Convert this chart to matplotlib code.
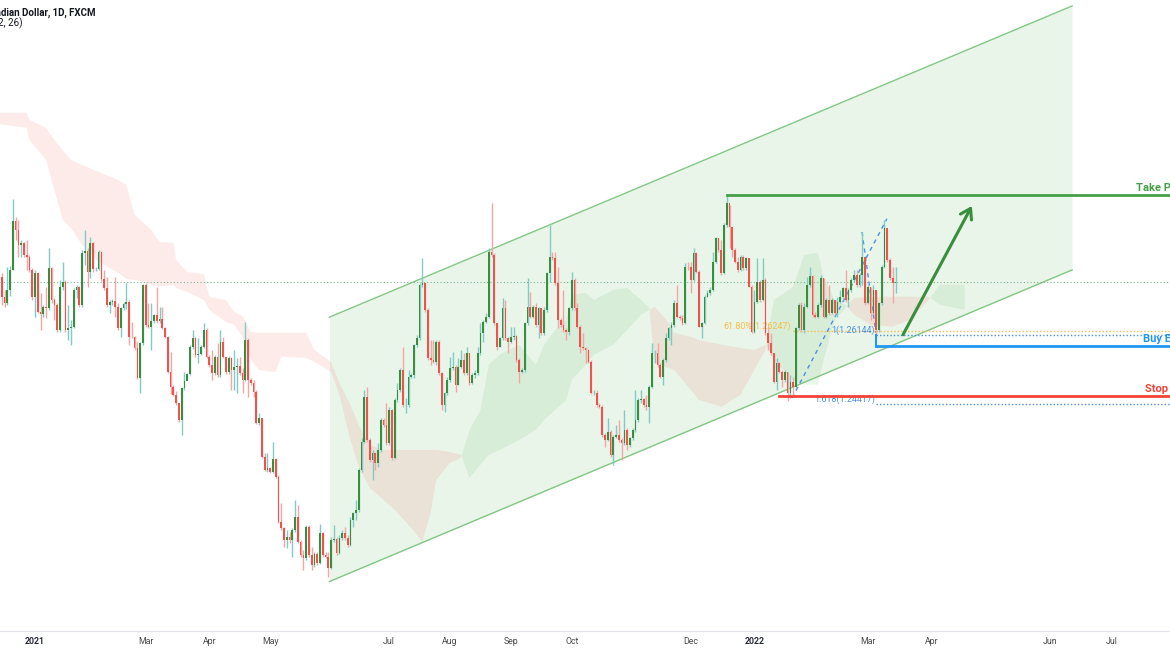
import matplotlib
matplotlib.use("Agg")
import matplotlib.pyplot as plt
import numpy as np
import pandas as pd

plt.rcParams['font.family'] = ['Roboto', 'DejaVu Sans']

# USD/CAD daily bars (FXCM), 15 Dec 2020 .. 15 Mar 2022
opens = [
    1.2759, 1.2709, 1.2694, 1.2727, 1.2777, 1.2900, 1.2877, 1.2839, 1.2844, 1.2814,
    1.2810, 1.2777, 1.2710, 1.2769, 1.2673, 1.2667, 1.2685, 1.2681, 1.2781, 1.2702,
    1.2689, 1.2627, 1.2735, 1.2748, 1.2627, 1.2631, 1.2635, 1.2727, 1.2734, 1.2689,
    1.2819, 1.2825, 1.2773, 1.2844, 1.2779, 1.2780, 1.2823, 1.2754, 1.2731, 1.2689,
    1.2697, 1.2700, 1.2685, 1.2631, 1.2681, 1.2692, 1.2698, 1.2610, 1.2609, 1.2581,
    1.2506, 1.2594, 1.2739, 1.2639, 1.2635, 1.2650, 1.2664, 1.2649, 1.2655, 1.2631,
    1.2610, 1.2523, 1.2485, 1.2464, 1.2444, 1.2402, 1.2481, 1.2500, 1.2517, 1.2585,
    1.2606, 1.2564, 1.2567, 1.2585, 1.2627, 1.2560, 1.2539, 1.2519, 1.2560, 1.2514,
    1.2598, 1.2560, 1.2523, 1.2556, 1.2527, 1.2535, 1.2537, 1.2519, 1.2502, 1.2602,
    1.2502, 1.2494, 1.2473, 1.2394, 1.2406, 1.2310, 1.2277, 1.2281, 1.2273, 1.2304,
    1.2260, 1.2148, 1.2131, 1.2102, 1.2110, 1.2102, 1.2127, 1.2160, 1.2098, 1.2064,
    1.2056, 1.2135, 1.2064, 1.2039, 1.2067, 1.2044, 1.2119, 1.2064, 1.2060, 1.2031,
    1.2102, 1.2104, 1.2069, 1.2106, 1.2119, 1.2106, 1.2089, 1.2152, 1.2169, 1.2177,
    1.2277, 1.2348, 1.2460, 1.2352, 1.2302, 1.2319, 1.2294, 1.2327, 1.2402, 1.2389,
    1.2344, 1.2427, 1.2306, 1.2452, 1.2477, 1.2527, 1.2439, 1.2439, 1.2510, 1.2514,
    1.2589, 1.2606, 1.2739, 1.2744, 1.2677, 1.2556, 1.2552, 1.2548, 1.2598, 1.2519,
    1.2439, 1.2469, 1.2502, 1.2531, 1.2535, 1.2490, 1.2535, 1.2552, 1.2519, 1.2569,
    1.2494, 1.2514, 1.2519, 1.2569, 1.2619, 1.2648, 1.2660, 1.2823, 1.2814, 1.2644,
    1.2585, 1.2606, 1.2681, 1.2606, 1.2598, 1.2610, 1.2612, 1.2552, 1.2523, 1.2527,
    1.2644, 1.2685, 1.2660, 1.2685, 1.2639, 1.2681, 1.2619, 1.2677, 1.2769, 1.2810,
    1.2806, 1.2744, 1.2652, 1.2639, 1.2627, 1.2623, 1.2681, 1.2752, 1.2681, 1.2635,
    1.2585, 1.2581, 1.2577, 1.2548, 1.2469, 1.2470, 1.2439, 1.2435, 1.2364, 1.2352,
    1.2373, 1.2314, 1.2360, 1.2364, 1.2352, 1.2344, 1.2377, 1.2339, 1.2356, 1.2377,
    1.2402, 1.2452, 1.2454, 1.2439, 1.2435, 1.2485, 1.2569, 1.2570, 1.2539, 1.2510,
    1.2552, 1.2606, 1.2631, 1.2639, 1.2694, 1.2660, 1.2656, 1.2644, 1.2785, 1.2784,
    1.2752, 1.2819, 1.2773, 1.2635, 1.2644, 1.2710, 1.2719, 1.2727, 1.2798, 1.2856,
    1.2827, 1.2769, 1.2889, 1.2944, 1.2885, 1.2827, 1.2798, 1.2777, 1.2810, 1.2781,
    1.2806, 1.2735, 1.2623, 1.2698, 1.2748, 1.2702, 1.2752, 1.2619, 1.2594, 1.2569,
    1.2498, 1.2544, 1.2523, 1.2502, 1.2523, 1.2469, 1.2498, 1.2485, 1.2631, 1.2689,
    1.2627, 1.2685, 1.2739, 1.2762, 1.2664, 1.2660, 1.2689, 1.2756, 1.2660, 1.2702,
    1.2669, 1.2702, 1.2669, 1.2698, 1.2710, 1.2731, 1.2702, 1.2727, 1.2752, 1.2764,
    1.2739, 1.2764, 1.2810, 1.2694, 1.2735, 1.2669, 1.2727, 1.2627, 1.2694, 1.2785,
    1.2881, 1.2802, 1.2756, 1.2744,
]
highs = [
    1.2769, 1.2727, 1.2785, 1.2787, 1.2954, 1.2910, 1.2902, 1.2852, 1.2848, 1.2852,
    1.2814, 1.2781, 1.2777, 1.2773, 1.2719, 1.2689, 1.2735, 1.2831, 1.2785, 1.2706,
    1.2694, 1.2752, 1.2798, 1.2752, 1.2689, 1.2652, 1.2731, 1.2739, 1.2737, 1.2827,
    1.2877, 1.2831, 1.2860, 1.2848, 1.2785, 1.2827, 1.2825, 1.2777, 1.2760, 1.2702,
    1.2705, 1.2760, 1.2694, 1.2685, 1.2698, 1.2744, 1.2702, 1.2648, 1.2612, 1.2598,
    1.2598, 1.2742, 1.2744, 1.2694, 1.2694, 1.2667, 1.2735, 1.2685, 1.2685, 1.2634,
    1.2612, 1.2573, 1.2489, 1.2475, 1.2444, 1.2485, 1.2523, 1.2520, 1.2589, 1.2627,
    1.2610, 1.2606, 1.2589, 1.2644, 1.2631, 1.2564, 1.2577, 1.2564, 1.2594, 1.2627,
    1.2610,
    1.2560, 1.2562, 1.2560, 1.2577, 1.2556, 1.2560, 1.2531, 1.2648, 1.2606, 1.2506,
    1.2502, 1.2477, 1.2419, 1.2406, 1.2319, 1.2319, 1.2285, 1.2348, 1.2306, 1.2264,
    1.2194, 1.2135, 1.2127, 1.2123, 1.2131, 1.2202, 1.2189, 1.2102, 1.2077, 1.2139,
    1.2139, 1.2085, 1.2073, 1.2073, 1.2142, 1.2123, 1.2073, 1.2073, 1.2110, 1.2139,
    1.2110, 1.2114, 1.2127, 1.2135, 1.2114, 1.2160, 1.2173, 1.2202, 1.2281, 1.2356,
    1.2477, 1.2485, 1.2356, 1.2327, 1.2323, 1.2344, 1.2406, 1.2406, 1.2444, 1.2435,
    1.2429, 1.2456, 1.2494, 1.2531, 1.2585, 1.2456, 1.2527, 1.2519, 1.2592, 1.2614,
    1.2744, 1.2806, 1.2748, 1.2681, 1.2602, 1.2602, 1.2602, 1.2602, 1.2523, 1.2473,
    1.2510, 1.2560, 1.2573, 1.2539,
    1.2556, 1.2577, 1.2569, 1.2585, 1.2569, 1.2519, 1.2527, 1.2585, 1.2644, 1.2652,
    1.2669, 1.2831, 1.2944, 1.2819, 1.2644, 1.2610, 1.2706, 1.2702, 1.2610, 1.2635,
    1.2635, 1.2614, 1.2556, 1.2531, 1.2648, 1.2756, 1.2723, 1.2689, 1.2694, 1.2685,
    1.2681, 1.2685, 1.2773, 1.2889, 1.2823, 1.2823, 1.2785, 1.2656, 1.2727, 1.2631,
    1.2685, 1.2773, 1.2756, 1.2694, 1.2639, 1.2619, 1.2585, 1.2579, 1.2552, 1.2477,
    1.2477, 1.2444, 1.2439, 1.2369, 1.2406, 1.2377, 1.2364, 1.2389, 1.2402, 1.2356,
    1.2427, 1.2381, 1.2360, 1.2381, 1.2477, 1.2456, 1.2477, 1.2456, 1.2464, 1.2489,
    1.2594, 1.2577, 1.2594, 1.2544, 1.2556, 1.2619, 1.2635, 1.2648, 1.2702, 1.2739,
    1.2664, 1.2664, 1.2794, 1.2798,
    1.2798, 1.2831, 1.2823, 1.2777, 1.2648, 1.2714, 1.2727, 1.2735, 1.2823, 1.2860,
    1.2856, 1.2852, 1.2894, 1.2962, 1.2940, 1.2852, 1.2831, 1.2810, 1.2814, 1.2814,
    1.2810, 1.2806, 1.2739, 1.2727, 1.2806, 1.2752, 1.2806, 1.2756, 1.2635, 1.2619,
    1.2570, 1.2556, 1.2548, 1.2527, 1.2527, 1.2523, 1.2514, 1.2510, 1.2635, 1.2694,
    1.2698, 1.2694, 1.2760, 1.2785, 1.2764, 1.2673, 1.2694, 1.2764, 1.2756, 1.2706,
    1.2739, 1.2706, 1.2702, 1.2710, 1.2727, 1.2735, 1.2777, 1.2731, 1.2756, 1.2777,
    1.2777, 1.2769, 1.2873, 1.2810, 1.2739, 1.2735, 1.2739, 1.2727, 1.2698, 1.2790,
    1.2902, 1.2877, 1.2806, 1.2785, 1.2785,
]
lows = [
    1.2689, 1.2685, 1.2689, 1.2712, 1.2777, 1.2852, 1.2810, 1.2810, 1.2810, 1.2777,
    1.2773, 1.2702, 1.2660, 1.2669, 1.2627, 1.2660, 1.2656, 1.2677, 1.2694, 1.2652,
    1.2623, 1.2623, 1.2727, 1.2623, 1.2602, 1.2589, 1.2631, 1.2706, 1.2685, 1.2685,
    1.2789, 1.2735, 1.2756, 1.2773, 1.2775, 1.2777, 1.2750, 1.2727, 1.2685, 1.2669,
    1.2689, 1.2660, 1.2627, 1.2610, 1.2677, 1.2679, 1.2589, 1.2606, 1.2577, 1.2504,
    1.2469, 1.2589, 1.2635, 1.2631, 1.2577, 1.2644, 1.2645, 1.2645, 1.2629, 1.2606,
    1.2520, 1.2467, 1.2462, 1.2439, 1.2398, 1.2364, 1.2477, 1.2510, 1.2514, 1.2579,
    1.2560, 1.2544, 1.2564, 1.2581, 1.2556, 1.2535, 1.2502, 1.2514, 1.2510, 1.2510,
    1.2556,
    1.2517, 1.2517, 1.2477, 1.2477, 1.2469, 1.2514, 1.2469, 1.2500, 1.2460, 1.2489,
    1.2460, 1.2392, 1.2389, 1.2306, 1.2275, 1.2273, 1.2269, 1.2270, 1.2256, 1.2144,
    1.2127, 1.2085, 1.2081, 1.2094, 1.2060, 1.2123, 1.2094, 1.2060, 1.2027, 1.2052,
    1.2060, 1.2027, 1.2035, 1.2039, 1.2042, 1.2060, 1.2056, 1.2010, 1.2029, 1.2098,
    1.2064, 1.2067, 1.2102, 1.2102, 1.2085, 1.2087, 1.2135, 1.2152, 1.2173, 1.2273,
    1.2344, 1.2348, 1.2298, 1.2252, 1.2277, 1.2285, 1.2323, 1.2385, 1.2339, 1.2339,
    1.2302, 1.2304, 1.2448, 1.2473, 1.2435, 1.2419, 1.2435, 1.2506, 1.2506, 1.2585,
    1.2602, 1.2735, 1.2673, 1.2552, 1.2539, 1.2544, 1.2539, 1.2514, 1.2427, 1.2423,
    1.2464, 1.2498, 1.2527, 1.2473,
    1.2489, 1.2531, 1.2514, 1.2514, 1.2489, 1.2492, 1.2506, 1.2514, 1.2564, 1.2598,
    1.2644, 1.2656, 1.2810, 1.2639, 1.2577, 1.2584, 1.2602, 1.2602, 1.2569, 1.2595,
    1.2602, 1.2548, 1.2494, 1.2519, 1.2523, 1.2639, 1.2656, 1.2656, 1.2635, 1.2606,
    1.2614, 1.2614, 1.2673, 1.2748, 1.2802, 1.2739, 1.2631, 1.2635, 1.2623, 1.2602,
    1.2614, 1.2677, 1.2677, 1.2631, 1.2569, 1.2577, 1.2544, 1.2544, 1.2467, 1.2464,
    1.2435, 1.2431, 1.2360, 1.2335, 1.2350, 1.2310, 1.2289, 1.2356, 1.2348, 1.2302,
    1.2339, 1.2327, 1.2335, 1.2352, 1.2373, 1.2398, 1.2444, 1.2435, 1.2427, 1.2394,
    1.2481, 1.2544, 1.2535, 1.2506, 1.2489, 1.2548, 1.2602, 1.2589, 1.2635, 1.2656,
    1.2652, 1.2639, 1.2642, 1.2777,
    1.2719, 1.2750, 1.2770, 1.2634, 1.2606, 1.2642, 1.2709, 1.2715, 1.2725, 1.2795,
    1.2823, 1.2765, 1.2767, 1.2885, 1.2831, 1.2810, 1.2794, 1.2773, 1.2775, 1.2777,
    1.2777, 1.2734, 1.2619, 1.2620, 1.2694, 1.2698, 1.2700, 1.2614, 1.2577, 1.2564,
    1.2494, 1.2477, 1.2519, 1.2485, 1.2498, 1.2450, 1.2456, 1.2460, 1.2481, 1.2627,
    1.2623, 1.2619, 1.2681, 1.2735, 1.2660, 1.2656, 1.2656, 1.2685, 1.2656, 1.2656,
    1.2664, 1.2667, 1.2664, 1.2660, 1.2694, 1.2702, 1.2698, 1.2685, 1.2723, 1.2748,
    1.2735, 1.2735, 1.2739, 1.2689, 1.2692, 1.2652, 1.2667, 1.2614, 1.2623, 1.2689,
    1.2781, 1.2798, 1.2752, 1.2694, 1.2719,
]
closes = [
    1.2709, 1.2694, 1.2727, 1.2777, 1.2900, 1.2877, 1.2839, 1.2844, 1.2814, 1.2810,
    1.2777, 1.2710, 1.2769, 1.2673, 1.2667, 1.2685, 1.2681, 1.2781, 1.2702, 1.2689,
    1.2627, 1.2735, 1.2748, 1.2627, 1.2631, 1.2635, 1.2727, 1.2734, 1.2689, 1.2819,
    1.2825, 1.2773, 1.2844, 1.2779, 1.2780, 1.2823, 1.2754, 1.2731, 1.2689, 1.2697,
    1.2700, 1.2685, 1.2631, 1.2681, 1.2692, 1.2698, 1.2610, 1.2609, 1.2581, 1.2506,
    1.2594, 1.2739, 1.2639, 1.2635, 1.2650, 1.2664, 1.2649, 1.2655, 1.2631, 1.2610,
    1.2523, 1.2485, 1.2464, 1.2444, 1.2402, 1.2481, 1.2500, 1.2517, 1.2585, 1.2606,
    1.2564, 1.2567, 1.2585, 1.2627, 1.2560, 1.2539, 1.2519, 1.2560, 1.2514, 1.2598,
    1.2560,
    1.2523, 1.2556, 1.2527, 1.2535, 1.2537, 1.2519, 1.2502, 1.2602, 1.2502, 1.2494,
    1.2473, 1.2394, 1.2406, 1.2310, 1.2277, 1.2281, 1.2273, 1.2304, 1.2260, 1.2148,
    1.2131, 1.2102, 1.2110, 1.2102, 1.2127, 1.2160, 1.2098, 1.2064, 1.2056, 1.2135,
    1.2064, 1.2039, 1.2067, 1.2044, 1.2119, 1.2064, 1.2060, 1.2031, 1.2102, 1.2104,
    1.2069, 1.2106, 1.2119, 1.2106, 1.2089, 1.2152, 1.2169, 1.2177, 1.2277, 1.2348,
    1.2460, 1.2352, 1.2302, 1.2319, 1.2294, 1.2327, 1.2402, 1.2389, 1.2344, 1.2427,
    1.2306, 1.2452, 1.2477, 1.2527, 1.2439, 1.2439, 1.2510, 1.2514, 1.2589, 1.2606,
    1.2739, 1.2744, 1.2677, 1.2556, 1.2552, 1.2548, 1.2598, 1.2519, 1.2439, 1.2469,
    1.2502, 1.2531, 1.2535, 1.2490,
    1.2535, 1.2552, 1.2519, 1.2569, 1.2494, 1.2514, 1.2519, 1.2569, 1.2619, 1.2648,
    1.2660, 1.2823, 1.2814, 1.2644, 1.2585, 1.2606, 1.2681, 1.2606, 1.2598, 1.2610,
    1.2612, 1.2552, 1.2523, 1.2527, 1.2644, 1.2685, 1.2660, 1.2685, 1.2639, 1.2681,
    1.2619, 1.2677, 1.2769, 1.2810, 1.2806, 1.2744, 1.2652, 1.2639, 1.2627, 1.2623,
    1.2681, 1.2752, 1.2681, 1.2635, 1.2585, 1.2581, 1.2577, 1.2548, 1.2469, 1.2470,
    1.2439, 1.2435, 1.2364, 1.2352, 1.2373, 1.2314, 1.2360, 1.2364, 1.2352, 1.2344,
    1.2377, 1.2339, 1.2356, 1.2377, 1.2402, 1.2452, 1.2454, 1.2439, 1.2435, 1.2485,
    1.2569, 1.2570, 1.2539, 1.2510, 1.2552, 1.2606, 1.2631, 1.2639, 1.2694, 1.2660,
    1.2656, 1.2644, 1.2785, 1.2784,
    1.2752, 1.2819, 1.2773, 1.2635, 1.2644, 1.2710, 1.2719, 1.2727, 1.2798, 1.2856,
    1.2827, 1.2769, 1.2889, 1.2944, 1.2885, 1.2827, 1.2798, 1.2777, 1.2810, 1.2781,
    1.2806, 1.2735, 1.2623, 1.2698, 1.2748, 1.2702, 1.2752, 1.2619, 1.2594, 1.2569,
    1.2498, 1.2544, 1.2523, 1.2502, 1.2523, 1.2469, 1.2498, 1.2485, 1.2631, 1.2689,
    1.2627, 1.2685, 1.2739, 1.2762, 1.2664, 1.2660, 1.2689, 1.2756, 1.2660, 1.2702,
    1.2669, 1.2702, 1.2669, 1.2698, 1.2710, 1.2731, 1.2702, 1.2727, 1.2752, 1.2764,
    1.2739, 1.2764, 1.2810, 1.2694, 1.2735, 1.2669, 1.2727, 1.2627, 1.2694, 1.2785,
    1.2881, 1.2802, 1.2756, 1.2744, 1.2747,
]

# FXCM sessions: weekdays, no bar on 25 Dec 2020 / 1 Jan 2021
sessions = pd.bdate_range("2020-12-15", "2022-08-31")
sessions = sessions[~sessions.isin(pd.to_datetime(["2020-12-25", "2021-01-01"]))]
first_2021 = sessions.get_loc(pd.Timestamp("2021-01-04"))

# Ichimoku (9, 26, 52, 26) leading spans, bars counted from first 2021 session
cloud_bar = [-13, -3, -2, 4, 7, 10, 13, 17, 23, 30,
             33, 36, 42, 45, 50, 51, 55, 61, 63, 69,
             72, 75, 78, 81, 87, 89, 98, 101, 107, 110,
             114, 117, 121, 126, 130, 136, 140, 143, 145, 150,
             154, 157, 161, 164, 168, 175, 181, 184, 188, 192,
             194, 199, 202, 209, 214, 219, 222, 224, 229, 231,
             237, 240, 248, 255, 260, 264, 267, 274, 278, 283,
             285, 289, 293, 296, 302, 310, 316, 323, 327, 336]
span_a = [1.3142, 1.3132, 1.3102, 1.3052, 1.2977, 1.2902, 1.2882, 1.2840, 1.2797, 1.2770,
          1.2755, 1.2752, 1.2740, 1.2735, 1.2740, 1.2732, 1.2722, 1.2702, 1.2677, 1.2647,
          1.2640, 1.2610, 1.2552, 1.2527, 1.2522, 1.2560, 1.2557, 1.2547, 1.2522, 1.2465,
          1.2352, 1.2285, 1.2232, 1.2202, 1.2177, 1.2132, 1.2097, 1.2170, 1.2252, 1.2295,
          1.2307, 1.2377, 1.2427, 1.2540, 1.2565, 1.2590, 1.2540, 1.2590, 1.2627, 1.2652,
          1.2715, 1.2720, 1.2702, 1.2727, 1.2732, 1.2702, 1.2682, 1.2545, 1.2532, 1.2527,
          1.2477, 1.2452, 1.2435, 1.2465, 1.2527, 1.2577, 1.2702, 1.2735, 1.2815, 1.2820,
          1.2760, 1.2702, 1.2690, 1.2665, 1.2640, 1.2635, 1.2652, 1.2702, 1.2740, 1.2740]
span_b = [1.3170, 1.3170, 1.3152, 1.3132, 1.3102, 1.3077, 1.3052, 1.3040, 1.3022, 1.3002,
          1.2990, 1.2915, 1.2877, 1.2847, 1.2845, 1.2802, 1.2772, 1.2767, 1.2710, 1.2702,
          1.2672, 1.2662, 1.2622, 1.2620, 1.2620, 1.2620, 1.2620, 1.2577, 1.2547, 1.2495,
          1.2440, 1.2390, 1.2340, 1.2327, 1.2327, 1.2327, 1.2327, 1.2327, 1.2327, 1.2322,
          1.2315, 1.2257, 1.2290, 1.2315, 1.2327, 1.2352, 1.2377, 1.2402, 1.2427, 1.2452,
          1.2502, 1.2540, 1.2565, 1.2590, 1.2627, 1.2665, 1.2677, 1.2685, 1.2645, 1.2620,
          1.2610, 1.2602, 1.2590, 1.2582, 1.2577, 1.2590, 1.2552, 1.2502, 1.2490, 1.2490,
          1.2552, 1.2652, 1.2682, 1.2707, 1.2710, 1.2710, 1.2710, 1.2710, 1.2690, 1.2677]

# rising channel
chan_bar = [106.4, 374.8]
chan_top = [1.2659, 1.3437]
chan_bot = [1.1998, 1.2777]

# trade plan
tp_price, buy_price, stop_price = 1.2964, 1.2587, 1.2462
tp_from, buy_from, stop_from = 250, 304, 269
fib_618, fib_1, fib_1618 = 1.26247, 1.26144, 1.24417
fib_618_from, fib_ext_from = 274, 304
leg1_bar, leg1_px = [273.6, 307.9], [1.2457, 1.2905]
leg2_bar, leg2_px = [298.9, 303.9], [1.2872, 1.2620]
arrow_from = (313.7, 1.2615)
arrow_to = (338.6, 1.2937)

tick_dates = ["2021-01-04", "2021-03-01", "2021-04-01", "2021-05-03", "2021-07-01",
              "2021-08-02", "2021-09-01", "2021-10-01", "2021-12-01", "2022-01-03",
              "2022-03-01", "2022-04-01", "2022-06-01", "2022-07-01"]
tick_labels = ["2021", "Mar", "Apr", "May", "Jul", "Aug", "Sep", "Oct", "Dec",
               "2022", "Mar", "Apr", "Jun", "Jul"]

o = np.array(opens)
h = np.array(highs)
l = np.array(lows)
c = np.array(closes)
x = np.arange(len(c)) - first_2021

fig = plt.figure(figsize=(11.7, 6.5), dpi=100)
ax = fig.add_axes([0, 19 / 650, 1, 631 / 650])
x_left, x_right = -12.65, 410.2
ax.set_xlim(x_left, x_right)
ax.set_ylim(1.18744, 1.34519)

# channel
ax.fill_between(chan_bar, chan_bot, chan_top, color='#4caf50', alpha=0.12, lw=0, zorder=1)
ax.plot(chan_bar, chan_top, color='#81c784', lw=1, zorder=3)
ax.plot(chan_bar, chan_bot, color='#81c784', lw=1, zorder=3)

# cloud
cb = np.array(cloud_bar, dtype=float)
sa = np.array(span_a)
sb = np.array(span_b)
ax.fill_between(cb, sa, sb, where=sa >= sb, interpolate=True, color='#4caf50',
                alpha=0.11, lw=0, zorder=2)
ax.fill_between(cb, sa, sb, where=sa < sb, interpolate=True, color='#f44336',
                alpha=0.1, lw=0, zorder=2)

# last price line
ax.axhline(c[-1], color='#7cb98a', lw=0.8, ls=(0, (1, 2)), zorder=3)

# fib levels
ax.plot([fib_618_from, x_right], [fib_618, fib_618], color='#f7bd45', lw=1,
        ls=(0, (1, 1.5)), zorder=4)
ax.plot([fib_ext_from, x_right], [fib_1, fib_1], color='#4a90e2', lw=1,
        ls=(0, (1, 1.5)), zorder=4)
ax.plot([fib_ext_from, x_right], [fib_1618, fib_1618], color='#4a90e2', lw=1,
        ls=(0, (1, 1.5)), zorder=4)
ax.plot(leg1_bar, leg1_px, color='#4a90e2', lw=1, ls=(0, (3, 3)), zorder=4)
ax.plot(leg2_bar, leg2_px, color='#4a90e2', lw=1, ls=(0, (3, 3)), zorder=4)
ax.text(fib_618_from - 0.8, fib_618, '61.80%(1.26247)', color='#f7bd45', fontsize=6.4,
        ha='right', va='bottom', zorder=4)
ax.text(fib_ext_from - 0.5, fib_1, '1(1.26144)', color='#4a90e2', fontsize=6.4,
        ha='right', va='bottom', zorder=4)
ax.text(fib_ext_from - 0.5, fib_1618, '1.618(1.24417)', color='#4a90e2', fontsize=6.4,
        ha='right', va='bottom', zorder=4)

# candles
up = c >= o
lo = np.minimum(o, c)
ht = np.maximum(np.abs(c - o), 0.00007)
ax.vlines(x[up], l[up], h[up], color='#80cbc4', lw=1, zorder=5)
ax.vlines(x[~up], l[~up], h[~up], color='#f6a5a3', lw=1, zorder=5)
ax.bar(x[up], ht[up], 0.62, bottom=lo[up], color='#388e3c', lw=0, zorder=6)
ax.bar(x[~up], ht[~up], 0.62, bottom=lo[~up], color='#ef5350', lw=0, zorder=6)

# trade levels
ax.plot([tp_from, x_right], [tp_price, tp_price], color='#43a047', lw=2, zorder=7)
ax.plot([buy_from, x_right], [buy_price, buy_price], color='#2196f3', lw=2, zorder=7)
ax.plot([buy_from, buy_from], [fib_1, buy_price], color='#2196f3', lw=1.5, zorder=7)
ax.plot([stop_from, x_right], [stop_price, stop_price], color='#f44336', lw=2, zorder=7)
ax.text(398, tp_price + 0.0005, 'Take Profit', color='#43a047', fontsize=8,
        fontweight='bold', ha='left', va='bottom', zorder=8)
ax.text(400.4, buy_price + 0.0005, 'Buy Entry', color='#2196f3', fontsize=8,
        fontweight='bold', ha='left', va='bottom', zorder=8)
ax.text(401.2, stop_price + 0.0006, 'Stop Loss', color='#f44336', fontsize=8,
        fontweight='bold', ha='left', va='bottom', zorder=8)
ax.annotate('', xy=arrow_to, xytext=arrow_from,
            arrowprops=dict(arrowstyle='->,head_length=0.7,head_width=0.45',
                            color='#388e3c', lw=2.2, shrinkA=0, shrinkB=0),
            zorder=8)

# axis
tick_pos = sessions.get_indexer(pd.to_datetime(tick_dates)) - first_2021
ax.set_xticks(tick_pos)
ax.set_xticklabels(tick_labels)
ax.tick_params(axis='x', length=0, pad=4.6, labelsize=6.3, labelcolor='#4a4a4a')
for lab in ax.get_xticklabels():
    if lab.get_text().isdigit():
        lab.set_fontweight('bold')
        lab.set_color('#2a2e39')
ax.set_yticks([])
for side in ['top', 'left', 'right']:
    ax.spines[side].set_visible(False)
ax.spines['bottom'].set_color('#e0e3eb')

# header, cut off at the left edge as in the screenshot
fig.text(95 / 1170, 1 - 12.7 / 650, 'U.S. Dollar / Canadian Dollar, 1D, FXCM',
         ha='right', va='center', fontsize=7, fontweight='bold', color='#131722')
fig.text(23 / 1170, 1 - 23.5 / 650, 'Ichimoku (9, 26, 52, 26)',
         ha='right', va='center', fontsize=7, color='#131722')

fig.savefig('out.png', dpi=100)
